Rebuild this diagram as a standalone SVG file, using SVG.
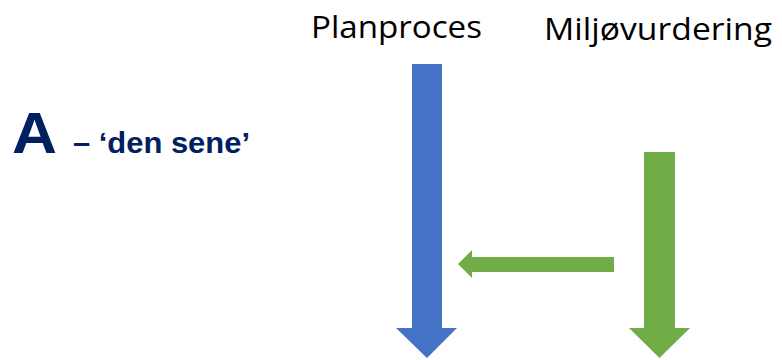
<svg xmlns="http://www.w3.org/2000/svg" width="782" height="360" viewBox="0 0 782 360">
<style>
.lbl{font-family:"Open Sans","Noto Sans","Liberation Sans",sans-serif;font-size:31px;fill:#000}
.ttl{font-family:"Liberation Sans",Arial,sans-serif;font-weight:bold;fill:#002060}
.blue{fill:#4472C4}
.green{fill:#70AD47}
</style>
<rect width="782" height="360" fill="#fff"/>
<g id="title">
<text class="ttl" x="12" y="153" font-size="58" textLength="45" lengthAdjust="spacingAndGlyphs">A</text>
<text class="ttl" x="73" y="153" font-size="30" textLength="177" lengthAdjust="spacingAndGlyphs">– ‘den sene’</text>
</g>
<g id="planproces">
<text class="lbl" x="311" y="38" textLength="171" lengthAdjust="spacingAndGlyphs">Planproces</text>
</g>
<g id="miljovurdering">
<text class="lbl" x="544" y="40" textLength="228" lengthAdjust="spacingAndGlyphs">Miljøvurdering</text>
</g>
<g id="connectors">
<polygon class="blue" points="412,64 442,64 442,328 457,328 427,358 396,328 412,328"/>
<polygon class="green" points="644,152 675,152 675,328 690,328 659.5,358 629,328 644,328"/>
<polygon class="green" points="614,257 614,272 472,272 472,278 458,264 472,250 472,257"/>
</g>
</svg>
